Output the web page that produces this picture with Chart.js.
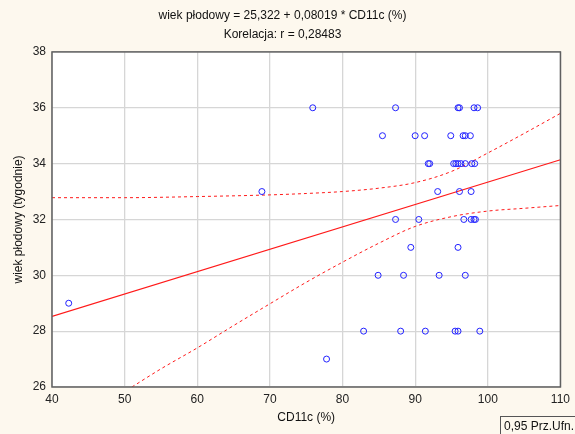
<!DOCTYPE html>
<html>
<head>
<meta charset="utf-8">
<script src="https://cdn.jsdelivr.net/npm/chart.js@4/dist/chart.umd.min.js"></script>
<style>
  body { margin: 0; background: #fdf8ee; }
  #wrap { position: relative; width: 575px; height: 434px; }
  #ci { position: absolute; left: 500px; top: 416px; width: 80px; height: 20px;
        border: 1px solid #555; box-sizing: border-box; padding: 2px 0 0 3px;
        font: 12px 'Liberation Sans', Arial, sans-serif; color: #111; }
</style>
</head>
<body>
<div id="wrap">
  <canvas id="c" width="575" height="434"></canvas>
  <div id="ci">0,95 Prz.Ufn.</div>
</div>
<script>
// scatter points
const ptX = [
  75.9, 87.3, 95.9, 96.1, 98.1, 98.6,
  85.5, 90.0, 91.3, 94.9, 96.6, 96.9, 97.6,
  91.8, 92.0, 95.3, 95.6, 95.9, 96.3, 96.9, 97.8, 98.2,
  68.9, 93.1, 96.1, 97.7,
  87.3, 90.5, 96.7, 97.7, 98.1, 98.3,
  89.4, 95.9,
  84.9, 88.4, 93.3, 96.9,
  42.3,
  82.9, 88.0, 91.4, 95.5, 95.9, 98.9,
  77.8,
];
const ptY = [
  36, 36, 36, 36, 36, 36,
  35, 35, 35, 35, 35, 35, 35,
  34, 34, 34, 34, 34, 34, 34, 34, 34,
  33, 33, 33, 33,
  32, 32, 32, 32, 32, 32,
  31, 31,
  30, 30, 30, 30,
  29,
  28, 28, 28, 28, 28, 28,
  27,
];

// fitted line endpoints
const fitX = [40, 110];
const fitY = [28.53, 34.14];

// confidence band
const upX = [40, 50, 60, 70, 75, 80, 85, 90, 95, 100, 105, 110];
const upY = [32.78, 32.78, 32.82, 32.88, 32.93, 33.0, 33.12, 33.32, 33.72, 34.38, 35.08, 35.8];
const loX = [51, 55, 60, 65, 70, 75, 80, 85, 90, 95, 100, 105, 110];
const loY = [26.0, 26.65, 27.4, 28.2, 28.98, 29.75, 30.47, 31.15, 31.75, 32.1, 32.3, 32.4, 32.5];

const FONT = "'Liberation Sans', Arial, sans-serif";
const RED = '#ff1a1a';
const BLUE = '#2222ff';

const zip = (xs, ys) => xs.map((x, i) => ({ x, y: ys[i] }));

// white plot area + dark frame
const plotFrame = {
  id: 'plotFrame',
  beforeDraw(chart) {
    const { ctx, chartArea: a } = chart;
    ctx.save();
    ctx.fillStyle = '#ffffff';
    ctx.fillRect(a.left, a.top, a.right - a.left, a.bottom - a.top);
    ctx.restore();
  },
  afterDraw(chart) {
    const { ctx, chartArea: a } = chart;
    ctx.save();
    ctx.strokeStyle = '#606060';
    ctx.lineWidth = 1.5;
    ctx.strokeRect(a.left, a.top, a.right - a.left, a.bottom - a.top);
    ctx.restore();
  },
};

const band = (xs, ys) => ({
  data: zip(xs, ys),
  showLine: true,
  borderColor: RED,
  borderWidth: 1,
  borderDash: [3, 3],
  pointRadius: 0,
  cubicInterpolationMode: 'monotone',
  order: 3,
});

new Chart(document.getElementById('c'), {
  type: 'scatter',
  data: {
    datasets: [
      band(upX, upY),
      band(loX, loY),
      {
        data: zip(fitX, fitY),
        showLine: true,
        borderColor: RED,
        borderWidth: 1.2,
        pointRadius: 0,
        order: 2,
      },
      {
        data: zip(ptX, ptY),
        pointStyle: 'circle',
        pointRadius: 3,
        borderColor: BLUE,
        borderWidth: 1,
        backgroundColor: 'transparent',
        order: 1,
      },
    ],
  },
  options: {
    responsive: false,
    animation: false,
    layout: { padding: { left: 0, right: 10, top: 0, bottom: 0 } },
    plugins: {
      legend: { display: false },
      tooltip: { enabled: false },
      title: {
        display: true,
        text: ['wiek płodowy = 25,322 + 0,08019 * CD11c (%)', 'Korelacja: r = 0,28483'],
        color: '#111',
        font: { family: FONT, size: 12, weight: 'normal', lineHeight: 1.58 },
        padding: { top: 6, bottom: 8 },
      },
    },
    scales: {
      x: {
        type: 'linear',
        min: 40,
        max: 110,
        ticks: { stepSize: 10, color: '#222', padding: 5, font: { family: FONT, size: 12 } },
        grid: { color: '#d6d6d6', lineWidth: 1.3, drawTicks: false },
        border: { display: false },
        title: {
          display: true,
          text: 'CD11c (%)',
          color: '#111',
          font: { family: FONT, size: 12 },
          padding: { top: 0, bottom: 9 },
        },
        afterFit(s) { s.height = 47; },
      },
      y: {
        min: 26,
        max: 38,
        ticks: { stepSize: 2, color: '#222', padding: 6, font: { family: FONT, size: 12 } },
        grid: { color: '#d6d6d6', lineWidth: 1.3, drawTicks: false },
        border: { display: false },
        title: {
          display: true,
          text: 'wiek płodowy (tygodnie)',
          color: '#111',
          font: { family: FONT, size: 12 },
          padding: { top: 11, bottom: 0 },
        },
        afterFit(s) { s.width = 52; },
      },
    },
  },
  plugins: [plotFrame],
});
</script>
</body>
</html>
